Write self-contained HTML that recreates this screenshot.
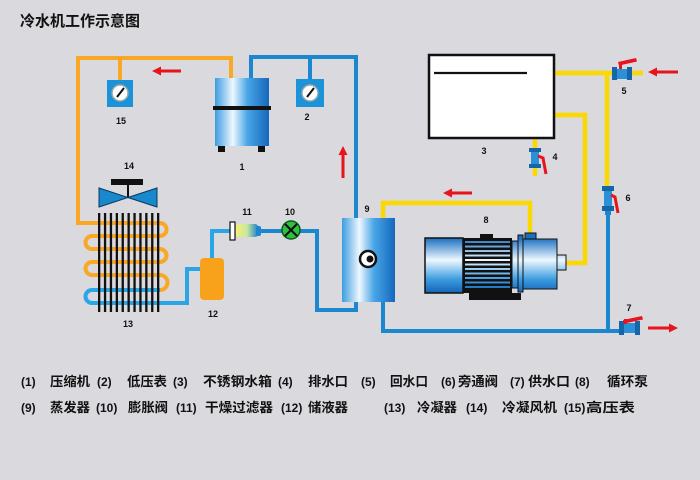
<!DOCTYPE html>
<html><head><meta charset="utf-8"><style>
html,body{margin:0;padding:0;background:#d9d9de;}
svg{display:block;}
text{font-family:"Liberation Sans","Noto Sans CJK SC",sans-serif;font-weight:bold;fill:#111;}
</style></head><body>
<svg width="700" height="480" viewBox="0 0 700 480" xmlns="http://www.w3.org/2000/svg">
<defs>
<linearGradient id="hg" x1="0" y1="0" x2="1" y2="0">
<stop offset="0" stop-color="#3c9ce0"/><stop offset="0.33" stop-color="#eef7ff"/><stop offset="0.6" stop-color="#4aa6e6"/><stop offset="1" stop-color="#1468bc"/>
</linearGradient>
<linearGradient id="vg" x1="0" y1="238" x2="0" y2="293" gradientUnits="userSpaceOnUse">
<stop offset="0" stop-color="#1a70c0"/><stop offset="0.4" stop-color="#eef7ff"/><stop offset="0.75" stop-color="#3c9ce0"/><stop offset="1" stop-color="#1464b4"/>
</linearGradient>
<linearGradient id="fg" x1="0" y1="0" x2="1" y2="0">
<stop offset="0" stop-color="#f6f070"/><stop offset="0.5" stop-color="#c8e8a0"/><stop offset="1" stop-color="#2080c8"/>
</linearGradient>
</defs>

<text x="20" y="26" font-size="15" textLength="120" lengthAdjust="spacingAndGlyphs">冷水机工作示意图</text>

<!-- orange refrigerant pipe -->
<g fill="none" stroke="#f9a825" stroke-width="4">
<path d="M231,80 V58 H78 V223 H160 A6.5 6.5 0 0 1 160,236 H92 A6.5 6.5 0 0 0 92,249 H160 A6.5 6.5 0 0 1 160,262 H92 A6.5 6.5 0 0 0 92,275 H160 A7.5 7.5 0 0 1 160,290"/>
<path d="M120,58 V80"/>
</g>
<!-- light blue lines -->
<g fill="none" stroke="#2aa6e6" stroke-width="4">
<path d="M160,290 H92 A6.5 6.5 0 0 0 92,303 H187 V269 H201"/>
<path d="M230,231 H212 V259"/>
</g>
<!-- blue refrigerant pipe -->
<g fill="none" stroke="#1b87cf" stroke-width="4">
<path d="M251,80 V57 H356 V219"/>
<path d="M310,57 V80"/>
<path d="M356,300 V310 H317 V231 H282"/>
<path d="M259,231 H283"/>
<path d="M383,300 V331 H622"/>
<path d="M608,214 V331"/>
</g>
<!-- yellow water pipes -->
<g fill="none" stroke="#fbd800" stroke-width="4.5">
<path d="M383,219 V203 H530 V234"/>
<path d="M565,263 H585 V115 H555"/>
<path d="M555,73 H643"/>
<path d="M607,73 V187"/>
<path d="M535,139 V176"/>
</g>

<!-- gauges -->
<rect x="107" y="80" width="26" height="27" fill="#1c92d8"/>
<circle cx="120" cy="93" r="8" fill="#fff" stroke="#9aa" stroke-width="1.5"/>
<line x1="117" y1="97" x2="124" y2="88" stroke="#111" stroke-width="2"/>
<rect x="296" y="79" width="28" height="28" fill="#1c92d8"/>
<circle cx="310" cy="93" r="8" fill="#fff" stroke="#9aa" stroke-width="1.5"/>
<line x1="307" y1="97" x2="314" y2="88" stroke="#111" stroke-width="2"/>

<!-- compressor -->
<rect x="215" y="78" width="54" height="68" fill="url(#hg)"/>
<rect x="213" y="106" width="58" height="4" fill="#111"/>
<rect x="218" y="146" width="7" height="6" fill="#111"/>
<rect x="258" y="146" width="7" height="6" fill="#111"/>

<!-- fan 14 -->
<rect x="111" y="179" width="32" height="6" fill="#111"/>
<line x1="128" y1="185" x2="128" y2="197" stroke="#111" stroke-width="2"/>
<polygon points="99,188 99,207 128,197.5" fill="#1a88cc" stroke="#0a3a60" stroke-width="1"/>
<polygon points="157,188 157,207 128,197.5" fill="#1a88cc" stroke="#0a3a60" stroke-width="1"/>

<!-- condenser fins -->
<g fill="#111">
<rect x="98" y="213" width="2.3" height="99"/><rect x="103.9" y="213" width="2.3" height="99"/><rect x="109.8" y="213" width="2.3" height="99"/><rect x="115.7" y="213" width="2.3" height="99"/><rect x="121.6" y="213" width="2.3" height="99"/><rect x="127.5" y="213" width="2.3" height="99"/><rect x="133.4" y="213" width="2.3" height="99"/><rect x="139.3" y="213" width="2.3" height="99"/><rect x="145.2" y="213" width="2.3" height="99"/><rect x="151.1" y="213" width="2.3" height="99"/><rect x="157" y="213" width="2.3" height="99"/>
</g>

<!-- receiver 12 -->
<rect x="200" y="258" width="24" height="42" rx="4" fill="#f7a21a"/>

<!-- filter 11 -->
<rect x="230" y="222" width="5" height="18" fill="#fff" stroke="#111" stroke-width="1.2"/>
<rect x="236" y="224" width="22" height="13" rx="3" fill="url(#fg)"/>
<rect x="256" y="226" width="5" height="10" rx="2" fill="#1b87cf"/>

<!-- expansion valve 10 -->
<circle cx="291" cy="230" r="9" fill="#30c040" stroke="#0d5a1e" stroke-width="1.5"/>
<line x1="285" y1="224" x2="297" y2="236" stroke="#111" stroke-width="2"/>
<line x1="297" y1="224" x2="285" y2="236" stroke="#111" stroke-width="2"/>

<!-- evaporator 9 -->
<rect x="342" y="218" width="53" height="84" fill="url(#hg)"/>
<circle cx="368" cy="259" r="8" fill="#fff" stroke="#111" stroke-width="2.5"/>
<circle cx="370" cy="259" r="3.5" fill="#111"/>

<!-- tank 3 -->
<rect x="429" y="55" width="125" height="83" fill="#fff" stroke="#111" stroke-width="2.5"/>
<line x1="434" y1="73" x2="527" y2="73" stroke="#111" stroke-width="2.2"/>

<!-- pump 8 -->
<rect x="480" y="234" width="13" height="5" fill="#111"/>
<rect x="469" y="293" width="52" height="7" fill="#111"/>
<rect x="425" y="238" width="38" height="55" fill="url(#vg)" stroke="#111" stroke-width="1.5"/>
<rect x="463" y="238" width="49" height="55" fill="#111"/>
<g fill="url(#vg)">
<rect x="465" y="241" width="45" height="2"/><rect x="465" y="245.5" width="45" height="2"/><rect x="465" y="250" width="45" height="2"/><rect x="465" y="254.5" width="45" height="2"/><rect x="465" y="259" width="45" height="2"/><rect x="465" y="263.5" width="45" height="2"/><rect x="465" y="268" width="45" height="2"/><rect x="465" y="272.5" width="45" height="2"/><rect x="465" y="277" width="45" height="2"/><rect x="465" y="281.5" width="45" height="2"/><rect x="465" y="286" width="45" height="2"/>
</g>
<rect x="512" y="241" width="6" height="47" fill="url(#vg)" stroke="#111" stroke-width="1"/>
<rect x="518" y="235" width="5" height="57" fill="url(#vg)" stroke="#111" stroke-width="1"/>
<rect x="523" y="239" width="34" height="50" fill="url(#vg)" stroke="#111" stroke-width="1"/>
<rect x="557" y="255" width="9" height="15" fill="url(#vg)" stroke="#111" stroke-width="1"/>
<rect x="525" y="233" width="11" height="6" fill="url(#vg)" stroke="#111" stroke-width="1"/>

<!-- valves -->
<g>
<rect x="612" y="67" width="5" height="13" fill="#1466a8"/><rect x="617" y="69" width="10" height="10" fill="#2a90d8"/><rect x="627" y="67" width="5" height="13" fill="#1466a8"/>
<rect x="619" y="63" width="3" height="6" fill="#e8141c"/>
<polygon points="618,62 636,58 637,61.5 619,65.5" fill="#e8141c"/>
</g>
<g>
<rect x="529" y="148" width="12" height="4" fill="#1466a8"/><rect x="531" y="152" width="8" height="12" fill="#2a90d8"/><rect x="529" y="164" width="12" height="4" fill="#1466a8"/>
<polyline points="538,156 543,158 546,174" fill="none" stroke="#e8141c" stroke-width="3"/>
</g>
<g>
<rect x="602" y="186" width="12" height="5" fill="#1466a8"/><rect x="604" y="191" width="8" height="18" fill="#2a90d8"/><rect x="602" y="206" width="12" height="5" fill="#1466a8"/><rect x="605" y="211" width="6" height="4" fill="#1b87cf"/>
<polyline points="611,195 615,197 618,213" fill="none" stroke="#e8141c" stroke-width="3"/>
</g>
<g>
<rect x="619" y="321" width="5" height="14" fill="#1466a8"/><rect x="624" y="323" width="11" height="10" fill="#2a90d8"/><rect x="635" y="321" width="5" height="14" fill="#1466a8"/>
<rect x="624" y="319" width="3" height="5" fill="#e8141c"/>
<polygon points="623,320 642,316 643,319.5 624,323.5" fill="#e8141c"/>
</g>

<!-- red arrows -->
<g fill="#e8141c">
<polygon points="152,71 161,66.5 161,69.5 181,69.5 181,72.5 161,72.5 161,75.5"/>
<polygon points="648,72 657,67.5 657,70.5 678,70.5 678,73.5 657,73.5 657,76.5"/>
<polygon points="443,193 452,188.5 452,191.5 472,191.5 472,194.5 452,194.5 452,197.5"/>
<polygon points="678,328 669,323.5 669,326.5 648,326.5 648,329.5 669,329.5 669,332.5"/>
<polygon points="343,146 347.5,155 344.5,155 344.5,178 341.5,178 341.5,155 338.5,155"/>
</g>

<!-- component labels -->
<g font-size="9" text-anchor="middle">
<text x="121" y="124">15</text>
<text x="307" y="120">2</text>
<text x="242" y="170">1</text>
<text x="129" y="169">14</text>
<text x="128" y="327">13</text>
<text x="213" y="317">12</text>
<text x="247" y="215">11</text>
<text x="290" y="215">10</text>
<text x="367" y="212">9</text>
<text x="486" y="223">8</text>
<text x="484" y="154">3</text>
<text x="555" y="160">4</text>
<text x="624" y="94">5</text>
<text x="628" y="201">6</text>
<text x="629" y="311">7</text>
</g>

<!-- legend -->
<g font-size="12">
<text x="21" y="386">(1)</text>
<text x="97" y="386">(2)</text>
<text x="173" y="386">(3)</text>
<text x="278" y="386">(4)</text>
<text x="361" y="386">(5)</text>
<text x="441" y="386">(6)</text>
<text x="510" y="386">(7)</text>
<text x="575" y="386">(8)</text>
<text x="21" y="412">(9)</text>
<text x="96" y="412">(10)</text>
<text x="176" y="412">(11)</text>
<text x="281" y="412">(12)</text>
<text x="384" y="412">(13)</text>
<text x="466" y="412">(14)</text>
<text x="564" y="412">(15)</text>
</g>
<g font-size="13">
<text x="50" y="386" textLength="40" lengthAdjust="spacingAndGlyphs">压缩机</text>
<text x="127" y="386" textLength="40" lengthAdjust="spacingAndGlyphs">低压表</text>
<text x="203" y="386" textLength="69" lengthAdjust="spacingAndGlyphs">不锈钢水箱</text>
<text x="308" y="386" textLength="40" lengthAdjust="spacingAndGlyphs">排水口</text>
<text x="390" y="386" textLength="38" lengthAdjust="spacingAndGlyphs">回水口</text>
<text x="458" y="386" textLength="40" lengthAdjust="spacingAndGlyphs">旁通阀</text>
<text x="528" y="386" textLength="42" lengthAdjust="spacingAndGlyphs">供水口</text>
<text x="607" y="386" textLength="41" lengthAdjust="spacingAndGlyphs">循环泵</text>

<text x="50" y="412" textLength="40" lengthAdjust="spacingAndGlyphs">蒸发器</text>
<text x="128" y="412" textLength="40" lengthAdjust="spacingAndGlyphs">膨胀阀</text>
<text x="205" y="412" textLength="68" lengthAdjust="spacingAndGlyphs">干燥过滤器</text>
<text x="308" y="412" textLength="40" lengthAdjust="spacingAndGlyphs">储液器</text>
<text x="417" y="412" textLength="40" lengthAdjust="spacingAndGlyphs">冷凝器</text>
<text x="502" y="412" textLength="55" lengthAdjust="spacingAndGlyphs">冷凝风机</text>
<text x="586" y="412" textLength="49" lengthAdjust="spacingAndGlyphs">高压表</text>
</g>
</svg>
</body></html>
